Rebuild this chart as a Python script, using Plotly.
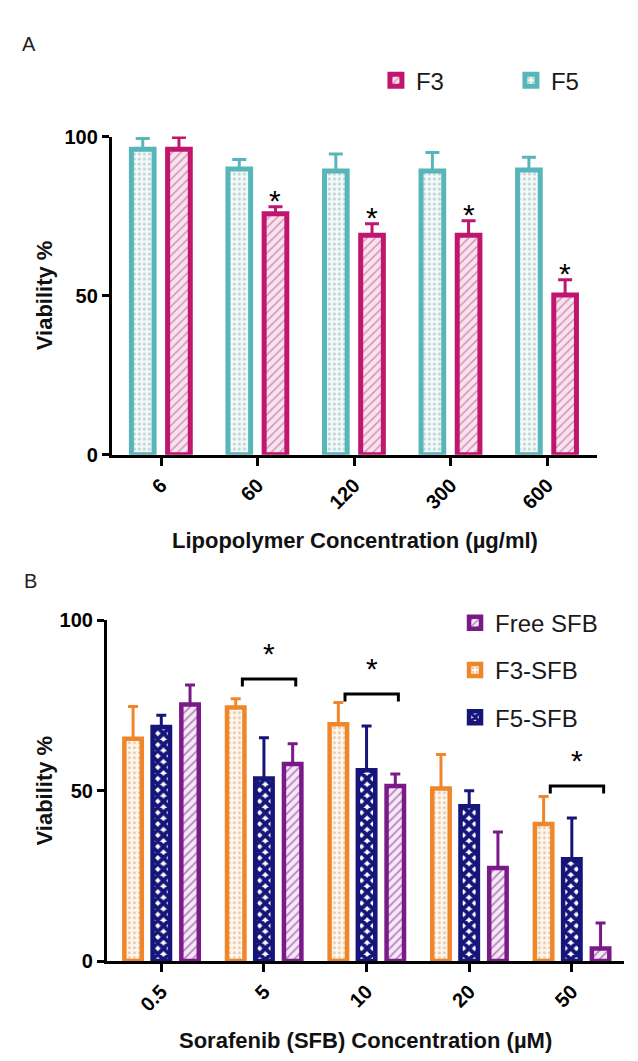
import plotly.graph_objects as go

# Panel A: cell viability after lipopolymer alone
conc_a = ["6", "60", "120", "300", "600"]
f3_mean = [96.0, 75.7, 69.0, 69.0, 50.2]
f3_err = [3.7, 2.2, 3.6, 4.5, 4.8]
f5_mean = [96.0, 89.8, 89.2, 89.2, 89.5]
f5_err = [3.4, 3.0, 5.3, 5.8, 4.0]
f3_sig = [False, True, True, True, True]   # * over the F3 bar

# Panel B: cell viability after sorafenib formulations
conc_b = ["0.5", "5", "10", "20", "50"]
free_mean = [75.3, 57.8, 51.4, 27.3, 3.7]
free_err = [5.7, 6.0, 3.5, 10.6, 7.5]
f3sfb_mean = [65.2, 74.4, 69.5, 50.6, 40.2]
f3sfb_err = [9.5, 2.6, 6.4, 10.0, 8.1]
f5sfb_mean = [68.7, 53.6, 56.0, 45.4, 29.9]
f5sfb_err = [3.4, 11.9, 13.0, 4.6, 12.1]
sig_b_groups = [1, 2, 4]          # groups with a significance bracket
sig_b_level = [82.8, 78.4, 51.4]  # bracket height (%)

FONT = "Liberation Sans, Arial, sans-serif"

fig = go.Figure()


def add_bars(name, means, errs, center, width, line_color, fill, pattern,
             xaxis, yaxis, legend, lw, cap):
    fig.add_trace(go.Bar(
        name=name,
        x=list(range(len(means))),
        y=means,
        offset=center - width / 2,
        width=width,
        marker=dict(color=fill, line=dict(color=line_color, width=lw), pattern=pattern),
        error_y=dict(type="data", array=errs, arrayminus=[0] * len(errs), symmetric=False,
                     color=line_color, thickness=3, width=cap),
        xaxis=xaxis, yaxis=yaxis, legend=legend, legendgroup=name,
        cliponaxis=False,
    ))


# panel A (legend order F3, F5; F5 drawn on the left)
add_bars("F3", f3_mean, f3_err, 0.185, 0.235, "#c0166e", "#fbe0ee",
         dict(shape="/", fgcolor="#9a4a78", size=6, solidity=0.25, fillmode="overlay"),
         "x", "y", "legend", 5, 7)
add_bars("F5", f5_mean, f5_err, -0.19, 0.235, "#58b5ba", "#f3fafa",
         dict(shape=".", fgcolor="#8fa6a8", size=5, solidity=0.3, fillmode="overlay"),
         "x", "y", "legend", 5, 7)

# panel B (legend order Free, F3, F5; drawn F3, F5, Free)
add_bars("Free SFB", free_mean, free_err, 0.28, 0.17, "#7a1a88", "#f5e9f6",
         dict(shape="/", fgcolor="#7a1a88", size=6, solidity=0.3, fillmode="overlay"),
         "x2", "y2", "legend2", 4.5, 5)
add_bars("F3-SFB", f3sfb_mean, f3sfb_err, -0.275, 0.17, "#f0862a", "#fff7ec",
         dict(shape=".", fgcolor="#c9a27a", size=5, solidity=0.3, fillmode="overlay"),
         "x2", "y2", "legend2", 4.5, 5)
add_bars("F5-SFB", f5sfb_mean, f5sfb_err, 0.0, 0.17, "#15157a", "#ffffff",
         dict(shape="x", fgcolor="#15157a", bgcolor="#ffffff", size=8, solidity=0.75,
              fillmode="replace"),
         "x2", "y2", "legend2", 4.5, 5)

annotations = []

# asterisks over F3 bars in panel A
for i, sig in enumerate(f3_sig):
    if sig:
        annotations.append(dict(x=i + 0.185, y=f3_mean[i] + f3_err[i], xref="x", yref="y",
                                text="*", showarrow=False, xanchor="center", yanchor="middle",
                                yshift=6, font=dict(family=FONT, size=30, color="black")))

# brackets + asterisks in panel B
shapes = []
for g, lvl in zip(sig_b_groups, sig_b_level):
    x0, x1 = g - 0.21, g + 0.31
    shapes.append(dict(type="path", xref="x2", yref="y2",
                       path=f"M {x0},{lvl - 2.2} L {x0},{lvl} L {x1},{lvl} L {x1},{lvl - 2.2}",
                       line=dict(color="black", width=3)))
    annotations.append(dict(x=(x0 + x1) / 2, y=lvl, xref="x2", yref="y2", text="*",
                            showarrow=False, xanchor="center", yanchor="middle", yshift=25,
                            font=dict(family=FONT, size=30, color="black")))

# panel letters
annotations.append(dict(x=12 / 638, y=1 - 26 / 1061, xref="paper", yref="paper", text="A",
                        showarrow=False, xanchor="left", yanchor="middle",
                        font=dict(family=FONT, size=20, color="#222")))
annotations.append(dict(x=14 / 638, y=1 - 574 / 1061, xref="paper", yref="paper", text="B",
                        showarrow=False, xanchor="left", yanchor="middle",
                        font=dict(family=FONT, size=20, color="#222")))

# axis titles
title_font = dict(family=FONT, size=22, color="#111", weight="bold")
title_common = dict(showarrow=False, font=title_font, xanchor="center", yanchor="middle")
annotations += [
    dict(x=0.5, y=-0.268, xref="x domain", yref="y domain",
         text="Lipopolymer Concentration (µg/ml)", **title_common),
    dict(x=-0.1385, y=0.5, xref="x domain", yref="y domain", text="Viability %",
         textangle=-90, **title_common),
    dict(x=0.5, y=-0.233, xref="x2 domain", yref="y2 domain",
         text="Sorafenib (SFB) Concentration (µM)", **title_common),
    dict(x=-0.12, y=0.5, xref="x2 domain", yref="y2 domain", text="Viability %",
         textangle=-90, **title_common),
]

tick_font = dict(family=FONT, size=20, color="black", weight="bold")
axis_common = dict(showline=True, linecolor="black", linewidth=3, ticks="outside",
                   tickwidth=3, tickcolor="black", showgrid=False, zeroline=False,
                   tickfont=tick_font, fixedrange=True)

legend_font = dict(family=FONT, size=24, color="#1a1a1a")

fig.update_layout(
    width=638, height=1061,
    margin=dict(l=0, r=0, t=0, b=0),
    paper_bgcolor="white", plot_bgcolor="white",
    barmode="overlay",
    showlegend=True,
    xaxis=dict(domain=[105 / 638, 596 / 638], range=[-0.51, 4.52], tickvals=list(range(5)),
               ticktext=conc_a, tickangle=-45, ticklen=8, anchor="y", **axis_common),
    yaxis=dict(domain=[1 - 445 / 1061, 1 - 120 / 1061], range=[0, 100], tickvals=[0, 50, 100],
               ticklen=7, anchor="x", **axis_common),
    xaxis2=dict(domain=[100 / 638, 623 / 638], range=[-0.53, 4.51], tickvals=list(range(5)),
                ticktext=conc_b, tickangle=-45, ticklen=8, anchor="y2", **axis_common),
    yaxis2=dict(domain=[1 - 962 / 1061, 1 - 614 / 1061], range=[0, 100], tickvals=[0, 50, 100],
                ticklen=7, anchor="x2", **axis_common),
    legend=dict(orientation="h", x=372 / 638, y=1 - 63 / 1061, xanchor="left", yanchor="middle",
                font=legend_font, bgcolor="rgba(0,0,0,0)", entrywidth=90, entrywidthmode="pixels"),
    legend2=dict(orientation="v", x=452 / 638, y=1 - 594 / 1061, xanchor="left", yanchor="top",
                 font=legend_font, bgcolor="rgba(0,0,0,0)", tracegroupgap=13),
    shapes=shapes,
    annotations=annotations,
)

fig.write_html("out.html")
